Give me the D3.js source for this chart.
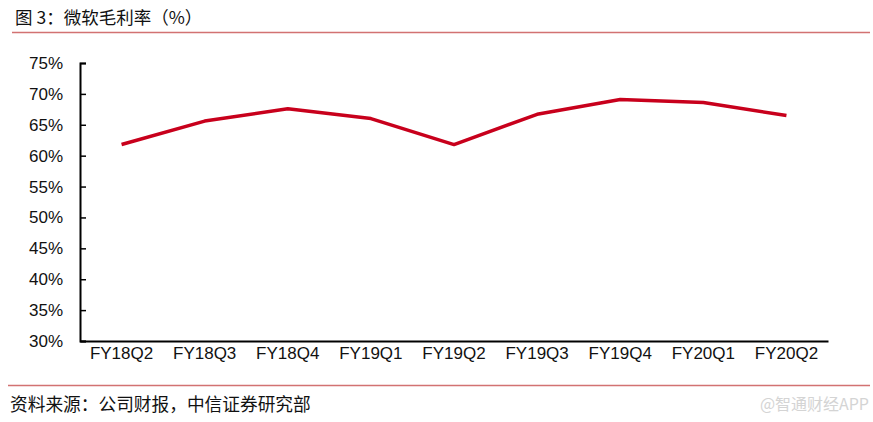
<!DOCTYPE html>
<html>
<head>
<meta charset="utf-8">
<script src="https://cdn.jsdelivr.net/npm/d3@7"></script>
<style>
  body { margin: 0; background: #fff; }
  svg { display: block; }
</style>
</head>
<body>
<div id="chart"></div>
<script>
// data
var quarters = ["FY18Q2", "FY18Q3", "FY18Q4", "FY19Q1", "FY19Q2", "FY19Q3", "FY19Q4", "FY20Q1", "FY20Q2"];
var grossMargin = [61.8, 65.6, 67.6, 66.0, 61.8, 66.7, 69.1, 68.6, 66.5];
var yTicks = [30, 35, 40, 45, 50, 55, 60, 65, 70, 75];

var W = 873, H = 422;
var svg = d3.select("#chart").append("svg")
	.attr("width", W)
	.attr("height", H);

var cnFont = "'Noto Sans CJK SC', sans-serif";
var numFont = "'Liberation Sans', Arial, sans-serif";

// title + rules
svg.append("text")
	.attr("x", 15)
	.attr("y", 24)
	.attr("font-family", cnFont)
	.attr("font-size", "17.5px")
	.attr("fill", "#111")
	.text("图 3：微软毛利率（%）");

svg.append("line")
	.attr("x1", 12).attr("x2", 870)
	.attr("y1", 32.5).attr("y2", 32.5)
	.attr("stroke", "#d27272").attr("stroke-width", 1.5);

svg.append("line")
	.attr("x1", 8).attr("x2", 870)
	.attr("y1", 385.5).attr("y2", 385.5)
	.attr("stroke", "#d27272").attr("stroke-width", 1.5);

svg.append("text")
	.attr("x", 10)
	.attr("y", 411)
	.attr("font-family", cnFont)
	.attr("font-size", "17.7px")
	.attr("fill", "#111")
	.text("资料来源：公司财报，中信证券研究部");

svg.append("text")
	.attr("x", 869)
	.attr("y", 410)
	.attr("text-anchor", "end")
	.attr("font-family", cnFont)
	.attr("font-size", "16px")
	.attr("fill", "#d4d4d4")
	.text("@智通财经APP");

// scales
var x = d3.scaleBand().domain(quarters).range([80, 828]);
var y = d3.scaleLinear().domain([30, 75]).range([341, 63]);

var g = svg.append("g");

g.append("g")
	.attr("transform", "translate(0,341)")
	.call(d3.axisBottom(x).tickSize(0).tickPadding(6))
	.call(function(a) {
		a.select(".domain").attr("stroke", "#000").attr("stroke-width", 2);
		a.selectAll("text")
			.attr("font-family", numFont)
			.attr("font-size", "17px")
			.attr("fill", "#111");
	});

g.append("g")
	.attr("transform", "translate(80,0)")
	.call(d3.axisLeft(y).tickValues(yTicks).tickSizeInner(-6).tickSizeOuter(-6).tickPadding(17)
		.tickFormat(function(d) { return d + "%"; }))
	.call(function(a) {
		a.select(".domain").attr("stroke", "#000").attr("stroke-width", 2);
		a.selectAll(".tick line").attr("stroke", "#000").attr("stroke-width", 1.5);
		a.selectAll("text")
			.attr("font-family", numFont)
			.attr("font-size", "17px")
			.attr("fill", "#111");
	});

var line = d3.line()
	.x(function(d, i) { return x(quarters[i]) + x.bandwidth() / 2; })
	.y(function(d) { return y(d); });

g.append("path")
	.datum(grossMargin)
	.attr("fill", "none")
	.attr("stroke", "#c8001c")
	.attr("stroke-width", 3.5)
	.attr("stroke-linejoin", "round")
	.attr("d", line);
</script>
</body>
</html>
